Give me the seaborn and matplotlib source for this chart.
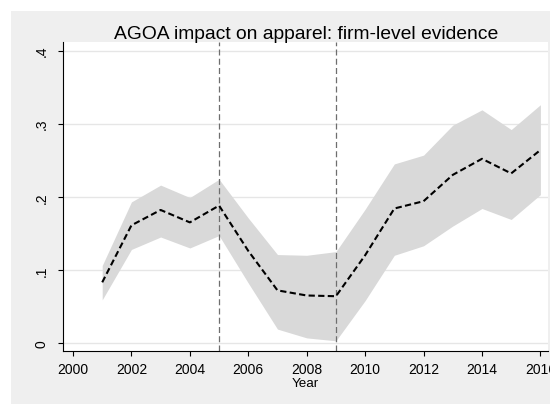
import matplotlib
matplotlib.use("Agg")
import matplotlib.pyplot as plt
import numpy as np
import pandas as pd
import seaborn as sns
from matplotlib.patches import Rectangle

# ---- data ----
years = list(range(2001, 2017))
estimate = [0.083, 0.161, 0.182, 0.165, 0.188, 0.126, 0.072, 0.065,
            0.064, 0.120, 0.184, 0.194, 0.230, 0.252, 0.232, 0.264]
ci_low = [0.059, 0.128, 0.145, 0.130, 0.147, 0.082, 0.019, 0.007,
          0.003, 0.058, 0.120, 0.133, 0.160, 0.184, 0.169, 0.203]
ci_high = [0.106, 0.193, 0.216, 0.199, 0.224, 0.171, 0.121, 0.120,
           0.125, 0.183, 0.245, 0.257, 0.298, 0.319, 0.292, 0.326]
event_years = [2005, 2009]
xticks = list(range(2000, 2017, 2))
yticks = [0, 0.1, 0.2, 0.3, 0.4]
ytick_labels = ["0", ".1", ".2", ".3", ".4"]
title = "AGOA impact on apparel: firm-level evidence"
xlabel = "Year"

df = pd.DataFrame({"Year": years, "estimate": estimate,
                   "low": ci_low, "high": ci_high})

sns.set_theme(style="white")
plt.rcParams["font.family"] = ["Liberation Sans", "DejaVu Sans"]

W, H = 550, 406
fig = plt.figure(figsize=(W / 100, H / 100), dpi=100, facecolor="white")
# grey graph region (leaves a thin white margin at left and top)
fig.patches.append(Rectangle((11 / W, 1 - 405 / H), (W - 11) / W, (405 - 12) / H,
                             transform=fig.transFigure, facecolor="#efefef",
                             edgecolor="none", zorder=-10))

L, R, T, B = 63.3, 548, 42.7, 352.3
ax = fig.add_axes([L / W, 1 - B / H, (R - L) / W, (B - T) / H])
ax.set_facecolor("white")

# grid lines
for yv in yticks:
    ax.axhline(yv, color="#e6e6e6", lw=1.0, zorder=0)

ax.fill_between(df["Year"], df["low"], df["high"], color="#d9d9d9",
                lw=0, zorder=1)
for ev in event_years:
    ax.axvline(ev, color="#6e6e6e", lw=0.9, dashes=(4.8, 2.6), zorder=2)
sns.lineplot(data=df, x="Year", y="estimate", ax=ax, color="black",
             lw=1.5, dashes=False, zorder=3)
ax.lines[-1].set_dashes((3.0, 1.6))

ax.set_xlim(1999.668, 2016.26)
ax.set_ylim(-0.01135, 0.4122)
ax.set_xticks(xticks)
ax.set_xticklabels([str(x) for x in xticks])
ax.set_yticks(yticks)
ax.set_yticklabels(ytick_labels, rotation=90, va="center")

for s in ["top", "right"]:
    ax.spines[s].set_visible(False)
for s in ["left", "bottom"]:
    ax.spines[s].set_color("black")
    ax.spines[s].set_linewidth(0.8)

ax.tick_params(axis="x", direction="out", length=3.4, width=0.8,
               color="black", labelsize=10, pad=4.2, labelcolor="black",
               bottom=True)
ax.tick_params(axis="y", direction="out", length=3.6, width=0.8,
               color="black", labelsize=10, pad=7, labelcolor="black",
               left=True)

ax.set_xlabel(xlabel, fontsize=9.6, labelpad=0.5, color="black")
ax.set_ylabel("")
ax.set_title(title, fontsize=13.9, pad=2.4, color="black")

fig.savefig("out.png", dpi=100, facecolor=fig.get_facecolor())
